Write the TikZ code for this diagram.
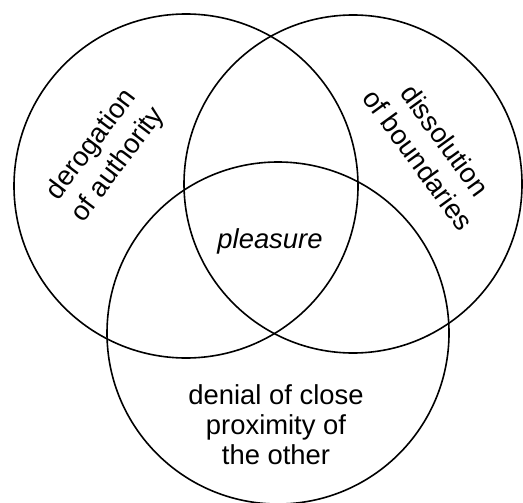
\documentclass[tikz,border=0pt]{standalone}
\usepackage{fontspec}
\setmainfont{Liberation Sans}
\begin{document}
\begin{tikzpicture}[x=0.5pt,y=-0.5pt,
ring/.style={draw,circle,line width=0.8pt,inner sep=0pt},
tag/.style={align=center,font=\fontsize{13.7}{15}\selectfont}]
\useasboundingbox (0,0) rectangle (523,502);
% the three overlapping circles
\node[ring,minimum size=172pt](authority) at (186,186){};
\node[ring,minimum size=169pt](boundaries) at (353,184){};
\node[ring,minimum size=171pt](proximity) at (278,333){};
% labels
\node[tag,rotate=53,font=\fontsize{13.7}{16.5}\selectfont](authoritytext) at (105,155){derogation\\of authority};
\node[tag,rotate=-54,font=\fontsize{13.7}{16.5}\selectfont](boundariestext) at (432,150){dissolution\\of boundaries};
\node[tag](proximitytext) at (276,425){denial of close\\proximity of\\the other};
\node[tag,font=\fontsize{13.7}{15}\selectfont\itshape](pleasure) at (270,241){pleasure};
\end{tikzpicture}
\end{document}
